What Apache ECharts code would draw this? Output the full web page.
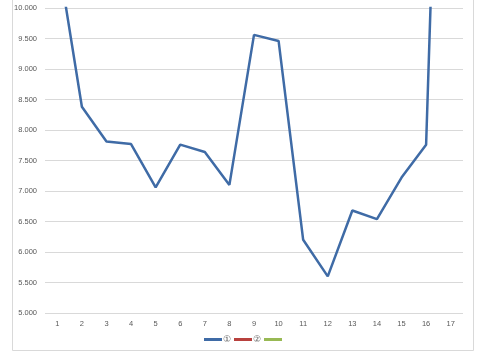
<!DOCTYPE html>
<html><head><meta charset="utf-8">
<script src="https://cdn.jsdelivr.net/npm/echarts@6/dist/echarts.min.js"></script>
<style>html,body{margin:0;padding:0;background:#fff}#c{width:480px;height:356px}</style>
</head><body><div id="c"></div>
<script>
var categories = ['1','2','3','4','5','6','7','8','9','10','11','12','13','14','15','16','17'];
var series1 = [10.9, 8.38, 7.81, 7.77, 7.06, 7.76, 7.64, 7.10, 9.56, 9.46, 6.20, 5.60, 6.68, 6.54, 7.22, 7.76, 20.4];
var series2 = [];
var series3 = [];
var seriesNames = ['①', '②', ' '];
var yMin = 5, yMax = 10, yStep = 0.5;

var chart = echarts.init(document.getElementById('c'), null, {renderer: 'canvas'});
var fontFam = '"Liberation Sans", Arial, sans-serif';
chart.setOption({
  animation: false,
  backgroundColor: '#fff',
  grid: {left: 45, right: 17, top: 8, bottom: 43, containLabel: false},
  graphic: [{
    type: 'rect', silent: true,
    shape: {x: 12.5, y: -5, width: 461, height: 355.5},
    style: {fill: 'none', stroke: '#d9d9d9', lineWidth: 1}
  }],
  legend: {
    data: seriesNames,
    left: 199, top: 330,
    itemWidth: 18, itemHeight: 3, itemGap: 3,
    icon: 'rect',
    textStyle: {fontSize: 9, color: '#595959', fontFamily: fontFam, padding: [0, 0, 0, -4]}
  },
  xAxis: {
    type: 'category', data: categories, boundaryGap: true,
    axisLine: {show: false}, axisTick: {show: false},
    axisLabel: {fontSize: 7.5, color: '#595959', fontFamily: fontFam, margin: 7}
  },
  yAxis: {
    type: 'value', min: yMin, max: yMax, interval: yStep,
    axisLine: {show: false}, axisTick: {show: false},
    splitLine: {lineStyle: {color: '#d9d9d9', width: 1}},
    axisLabel: {fontSize: 7.5, color: '#595959', fontFamily: fontFam, margin: 8,
      formatter: function (v) { return v.toFixed(3); }}
  },
  series: [
    {name: seriesNames[0], type: 'line', data: series1, showSymbol: false, symbol: 'none',
      lineStyle: {color: '#3f6ba6', width: 2.5}, itemStyle: {color: '#3f6ba6'}},
    {name: seriesNames[1], type: 'line', data: series2, symbol: 'none',
      lineStyle: {color: '#b8413e', width: 2.5}, itemStyle: {color: '#b8413e'}},
    {name: seriesNames[2], type: 'line', data: series3, symbol: 'none',
      lineStyle: {color: '#98b954', width: 2.5}, itemStyle: {color: '#98b954'}}
  ]
});
</script></body></html>
